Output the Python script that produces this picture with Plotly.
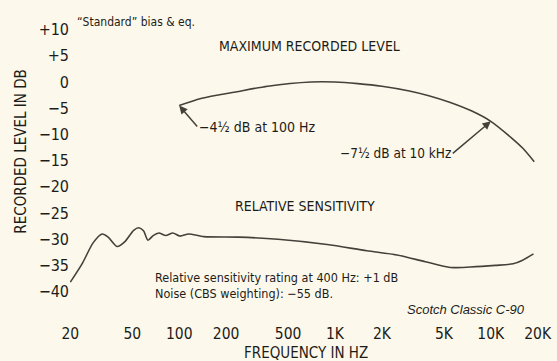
import numpy as np
import plotly.graph_objects as go

# Maximum recorded level (dB) vs frequency (Hz)
mol_freq = [100, 140, 230, 370, 700, 1000, 1400, 2000, 3000, 4000, 5500, 7500, 10000, 13500, 16000, 19000]
mol_db = [-4.5, -3.1, -1.9, -0.8, 0.0, 0.0, -0.3, -0.8, -1.7, -2.6, -3.9, -5.5, -7.5, -10.6, -12.6, -15.2]

# Relative sensitivity (dB) vs frequency (Hz)
sens_freq = [20, 24, 28, 32, 35, 40, 45, 51, 55, 59, 63, 68, 74, 82, 91, 101, 115, 144,
             240, 430, 890, 1600, 2500, 3800, 5500, 7400, 10700, 13900, 16000, 18800]
sens_db = [-38.2, -34.5, -30.7, -29.0, -29.6, -31.4, -30.4, -28.3, -27.8, -28.4, -30.2, -29.3,
           -28.8, -29.3, -28.8, -29.4, -29.0, -29.5, -29.6, -30.0, -31.0, -32.2, -33.0, -34.3,
           -35.4, -35.3, -35.0, -34.7, -34.0, -32.8]

# Axis ticks
x_tickvals = [20, 50, 100, 200, 500, 1000, 2000, 5000, 10000, 20000]
x_ticktext = ["20", "50", "100", "200", "500", "1K", "2K", "5K", "10K", "20K"]
y_tickvals = [10, 5, 0, -5, -10, -15, -20, -25, -30, -35, -40]
y_ticktext = ["+10", "+5", "0", "\u22125", "\u221210", "\u221215", "\u221220",
              "\u221225", "\u221230", "\u221235", "\u221240"]

COND = "Liberation Sans Narrow, DejaVu Sans Condensed, Arial Narrow, sans-serif"
INK = "#1e1c18"
LINE = "#45413a"
BG = "#fcf9ec"

fig = go.Figure()
fig.add_trace(go.Scatter(x=mol_freq, y=mol_db, mode="lines",
                         line=dict(color=LINE, width=1.6, shape="spline", smoothing=0.8),
                         hoverinfo="skip", showlegend=False))
fig.add_trace(go.Scatter(x=sens_freq, y=sens_db, mode="lines",
                         line=dict(color=LINE, width=1.6, shape="spline", smoothing=0.7),
                         hoverinfo="skip", showlegend=False))

def data_x(f):
    return float(np.log10(f))

annotations = [
    # curve annotations with arrows
    dict(x=data_x(mol_freq[0]), y=mol_db[0], xref="x", yref="y",
         text="\u22124\u00bd dB at 100 Hz", showarrow=True, ax=18, ay=21,
         xanchor="left", yanchor="middle", arrowhead=2, arrowsize=1.1, arrowwidth=1.5,
         arrowcolor=LINE, font=dict(family=COND, size=14, color=INK)),
    dict(x=data_x(mol_freq[12]), y=mol_db[12], xref="x", yref="y",
         text="\u22127\u00bd dB at 10 kHz", showarrow=True, ax=-38, ay=32,
         xanchor="right", yanchor="middle", arrowhead=2, arrowsize=1.1, arrowwidth=1.5,
         arrowcolor=LINE, font=dict(family=COND, size=13.5, color=INK)),
    # headings inside the plot
    dict(x=data_x(686), y=6.8, xref="x", yref="y", text="MAXIMUM RECORDED LEVEL",
         showarrow=False, font=dict(family=COND, size=14, color=INK)),
    dict(x=data_x(640), y=-23.6, xref="x", yref="y", text="RELATIVE SENSITIVITY",
         showarrow=False, font=dict(family=COND, size=14, color=INK)),
    dict(x=data_x(68), y=-38.9, xref="x", yref="y",
         text="Relative sensitivity rating at 400 Hz: +1 dB<br>Noise (CBS weighting): \u221255 dB.",
         showarrow=False, xanchor="left", yanchor="middle", align="left",
         font=dict(family=COND, size=12.5, color=INK)),
    dict(x=data_x(6980), y=-43.5, xref="x", yref="y", text="<i>Scotch Classic C-90</i>",
         showarrow=False, font=dict(family="Liberation Sans, Arial, sans-serif", size=13, color=INK)),
    dict(x=data_x(21.5), y=11.45, xref="x", yref="y", text="\u201cStandard\u201d bias & eq.",
         showarrow=False, xanchor="left", font=dict(family=COND, size=12, color=INK)),
    # axis titles
    dict(x=0.505, y=-0.098, xref="paper", yref="paper", text="FREQUENCY IN HZ",
         showarrow=False, yanchor="middle", font=dict(family=COND, size=15, color=INK)),
    dict(x=-0.105, y=0.54, xref="paper", yref="paper", text="RECORDED LEVEL IN DB",
         showarrow=False, textangle=-90, xanchor="center", yanchor="middle",
         font=dict(family=COND, size=15, color=INK)),
]

fig.update_layout(
    width=557, height=361,
    margin=dict(l=70, r=14, t=5, b=39),
    paper_bgcolor=BG, plot_bgcolor=BG,
    annotations=annotations,
    xaxis=dict(type="log", range=[np.log10(20) - 0.002, np.log10(20000) + 0.002],
               tickvals=x_tickvals, ticktext=x_ticktext, showgrid=False, zeroline=False,
               showline=False, ticks="", tickfont=dict(family=COND, size=15.5, color=INK)),
    yaxis=dict(range=[-45.8, 14.7], tickvals=y_tickvals, ticktext=y_ticktext,
               showgrid=False, zeroline=False, showline=False, ticks="",
               tickfont=dict(family=COND, size=16, color=INK)),
)

fig.write_html("out.html")
